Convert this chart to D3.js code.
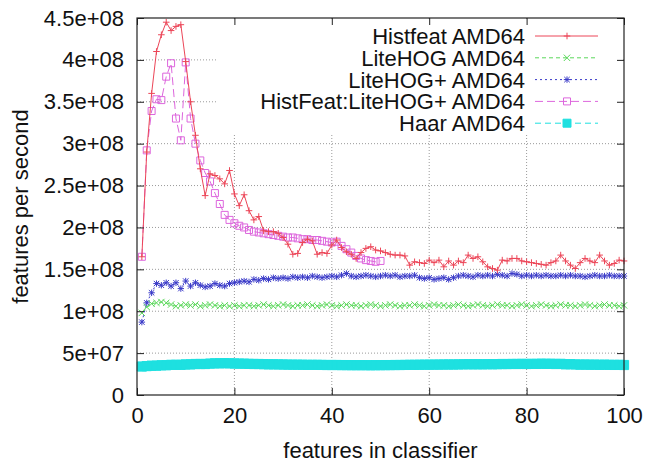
<!DOCTYPE html>
<html>
<head>
<meta charset="utf-8">
<script src="https://d3js.org/d3.v7.min.js"></script>
<style>
body { margin: 0; background: #fff; }
svg { display: block; }
text { font-family: "Liberation Sans", Arial, Helvetica, sans-serif; fill: #111; }
</style>
</head>
<body>
<div id="chart"></div>
<script>
// values are in units of 1e8 features per second, x = features in classifier (1, 2, 3 ...)
var histfeat = [1.65,2.90,3.60,4.10,4.30,4.45,4.35,4.40,4.42,3.98,
	3.50,3.10,2.70,2.38,2.64,2.62,2.58,2.52,2.68,2.40,
	2.26,2.39,2.20,2.09,2.13,1.96,1.95,1.95,1.93,1.88,
	1.80,1.68,1.69,1.82,1.86,1.84,1.68,1.70,1.69,1.79,
	1.85,1.76,1.71,1.68,1.63,1.70,1.75,1.77,1.73,1.72,
	1.70,1.68,1.67,1.67,1.66,1.55,1.59,1.58,1.57,1.61,
	1.58,1.61,1.53,1.60,1.55,1.60,1.58,1.67,1.63,1.65,
	1.59,1.53,1.51,1.49,1.61,1.60,1.63,1.63,1.60,1.59,
	1.58,1.57,1.56,1.55,1.58,1.60,1.67,1.60,1.55,1.51,
	1.58,1.63,1.60,1.58,1.67,1.60,1.55,1.57,1.61,1.60];
var litehog = [0.98,1.05,1.09,1.10,1.11,1.10,1.08,1.06,1.07,1.08,
	1.07,1.08,1.06,1.07,1.08,1.07,1.06,1.07,1.06,1.07,
	1.06,1.07,1.07,1.06,1.07,1.08,1.07,1.06,1.07,1.08,
	1.07,1.06,1.07,1.07,1.08,1.07,1.06,1.07,1.08,1.07,
	1.06,1.07,1.08,1.07,1.07,1.06,1.07,1.08,1.07,1.06,
	1.07,1.08,1.07,1.06,1.07,1.07,1.08,1.07,1.06,1.07,
	1.08,1.07,1.07,1.06,1.07,1.08,1.07,1.06,1.07,1.08,
	1.07,1.06,1.07,1.08,1.07,1.07,1.06,1.07,1.08,1.07,
	1.06,1.07,1.08,1.07,1.06,1.07,1.08,1.07,1.07,1.06,
	1.07,1.08,1.07,1.06,1.07,1.08,1.07,1.07,1.06,1.07];
var litehogPlus = [0.87,1.10,1.22,1.33,1.31,1.34,1.30,1.34,1.27,1.36,
	1.30,1.34,1.31,1.29,1.30,1.33,1.31,1.30,1.33,1.34,
	1.35,1.36,1.35,1.38,1.37,1.39,1.38,1.40,1.39,1.40,
	1.39,1.41,1.40,1.41,1.40,1.42,1.41,1.40,1.41,1.42,
	1.41,1.43,1.45,1.42,1.41,1.42,1.43,1.42,1.41,1.42,
	1.43,1.42,1.43,1.41,1.42,1.42,1.43,1.40,1.39,1.40,
	1.38,1.39,1.40,1.38,1.40,1.42,1.43,1.42,1.41,1.43,
	1.42,1.43,1.42,1.44,1.43,1.42,1.45,1.44,1.42,1.43,
	1.42,1.43,1.42,1.43,1.42,1.42,1.43,1.42,1.43,1.42,
	1.42,1.41,1.42,1.43,1.42,1.42,1.43,1.42,1.42,1.42];
var histfeatLitehog = [1.65,2.92,3.39,3.53,3.52,3.80,3.96,3.30,3.04,3.97,
	3.30,3.00,2.80,2.65,2.55,2.41,2.28,2.15,2.09,2.05,
	2.02,2.00,1.97,1.95,1.94,1.93,1.92,1.91,1.90,1.89,
	1.88,1.88,1.87,1.86,1.86,1.85,1.85,1.84,1.83,1.82,
	1.83,1.78,1.74,1.70,1.66,1.63,1.61,1.60,1.59,1.60];
var haar = [0.340,0.345,0.350,0.350,0.355,0.355,0.360,0.360,0.360,0.365,
	0.365,0.370,0.370,0.370,0.375,0.378,0.378,0.380,0.378,0.376,
	0.375,0.374,0.372,0.370,0.370,0.368,0.366,0.366,0.365,0.364,
	0.363,0.362,0.362,0.361,0.360,0.360,0.360,0.359,0.358,0.358,
	0.358,0.357,0.357,0.356,0.356,0.356,0.356,0.355,0.356,0.356,
	0.357,0.357,0.358,0.358,0.359,0.360,0.360,0.361,0.362,0.362,
	0.363,0.363,0.364,0.364,0.364,0.365,0.366,0.367,0.366,0.367,
	0.366,0.368,0.367,0.368,0.370,0.369,0.371,0.370,0.372,0.370,
	0.372,0.371,0.374,0.372,0.373,0.370,0.372,0.366,0.368,0.365,
	0.362,0.364,0.361,0.363,0.360,0.362,0.360,0.359,0.360,0.358];

var seriesNames = ["Histfeat AMD64", "LiteHOG AMD64", "LiteHOG+ AMD64", "HistFeat:LiteHOG+ AMD64", "Haar AMD64"];
var xTicks = [0, 20, 40, 60, 80, 100];
var yTicks = [0, 5e7, 1e8, 1.5e8, 2e8, 2.5e8, 3e8, 3.5e8, 4e8, 4.5e8];
var yTickLabels = ["0", "5e+07", "1e+08", "1.5e+08", "2e+08", "2.5e+08", "3e+08", "3.5e+08", "4e+08", "4.5e+08"];

var W = 647, H = 462,
	plotL = 137, plotR = 624, plotT = 18, plotB = 395;

var x = d3.scaleLinear().domain([0, 100]).range([plotL, plotR]);
var y = d3.scaleLinear().domain([0, 4.5e8]).range([plotB, plotT]);

var svg = d3.select("#chart").append("svg").attr("width", W).attr("height", H);

// grid
var grid = svg.append("g").attr("stroke", "#9a9a9a").attr("stroke-width", 1).attr("stroke-dasharray", "1,2");
grid.selectAll("line.gx").data(xTicks.slice(1, -1)).enter().append("line")
	.attr("x1", function(d){return x(d)}).attr("x2", function(d){return x(d)})
	.attr("y1", plotT).attr("y2", plotB);
grid.selectAll("line.gy").data(yTicks.slice(1, -1)).enter().append("line")
	.attr("y1", function(d){return y(d)}).attr("y2", function(d){return y(d)})
	.attr("x1", plotL).attr("x2", plotR);

// key area hides the grid
svg.append("rect").attr("x", 217).attr("y", plotT + 1).attr("width", plotR - 218).attr("height", 114).attr("fill", "#fff");

// markers
function marker(type, s)
{
	if(type == "plus") return "M" + (-s) + ",0H" + s + "M0," + (-s) + "V" + s;
	if(type == "cross") return "M" + (-s) + "," + (-s) + "L" + s + "," + s + "M" + (-s) + "," + s + "L" + s + "," + (-s);
	if(type == "star") return marker("plus", s) + marker("cross", s * 0.85);
	return "M" + (-s) + "," + (-s) + "H" + s + "V" + s + "H" + (-s) + "Z";
}

var series = [
	{name: seriesNames[0], values: histfeat, color: "#ec4658", dash: null, mark: "plus", size: 3.3, fill: "none"},
	{name: seriesNames[1], values: litehog, color: "#5ad85a", dash: "4,3", mark: "cross", size: 3.2, fill: "none"},
	{name: seriesNames[2], values: litehogPlus, color: "#3a3ac8", dash: "2,3", mark: "star", size: 3.2, fill: "none"},
	{name: seriesNames[3], values: histfeatLitehog, color: "#dd66dd", dash: "8,4", mark: "square", size: 3.5, fill: "none"},
	{name: seriesNames[4], values: haar, color: "#1ee0e0", dash: "6,4", mark: "square", size: 4.6, fill: "#1ee0e0"}
];

var line = d3.line()
	.x(function(d, i){return x(i + 1)})
	.y(function(d){return y(d * 1e8)});

// drawn back to front so red stays on top
series.slice().reverse().forEach(function(s)
{
	var g = svg.append("g");
	g.append("path").attr("d", line(s.values))
		.attr("fill", "none").attr("stroke", s.color).attr("stroke-width", 1)
		.attr("stroke-dasharray", s.dash);
	g.selectAll("path.pt").data(s.values).enter().append("path")
		.attr("class", "pt")
		.attr("transform", function(d, i){return "translate(" + x(i + 1) + "," + y(d * 1e8) + ")"})
		.attr("d", marker(s.mark, s.size))
		.attr("fill", s.fill).attr("stroke", s.color).attr("stroke-width", 1);
});

// axes, ticks point inward and are mirrored
var xAxis = svg.append("g").attr("transform", "translate(0," + plotB + ")")
	.call(d3.axisBottom(x).tickValues(xTicks).tickSize(-7).tickSizeOuter(0).tickPadding(12).tickFormat(d3.format("d")));
var xAxisTop = svg.append("g").attr("transform", "translate(0," + plotT + ")")
	.call(d3.axisTop(x).tickValues(xTicks).tickSize(-7).tickSizeOuter(0).tickFormat(""));
var yAxis = svg.append("g").attr("transform", "translate(" + plotL + ",0)")
	.call(d3.axisLeft(y).tickValues(yTicks).tickSize(-7).tickSizeOuter(0).tickPadding(13)
		.tickFormat(function(d, i){return yTickLabels[i]}));
var yAxisRight = svg.append("g").attr("transform", "translate(" + plotR + ",0)")
	.call(d3.axisRight(y).tickValues(yTicks).tickSize(-7).tickSizeOuter(0).tickFormat(""));

[xAxis, xAxisTop, yAxis, yAxisRight].forEach(function(a)
{
	a.select(".domain").remove();
	a.selectAll(".tick line").attr("stroke", "#222").attr("stroke-width", 1);
	a.selectAll("text").attr("font-size", 22).attr("fill", "#111")
		.attr("font-family", "\"Liberation Sans\", Arial, sans-serif");
});

svg.append("rect").attr("x", plotL).attr("y", plotT).attr("width", plotR - plotL).attr("height", plotB - plotT)
	.attr("fill", "none").attr("stroke", "#222").attr("stroke-width", 1.2);

// axis titles
svg.append("text").attr("x", (plotL + plotR) / 2).attr("y", 458).attr("text-anchor", "middle")
	.attr("font-size", 22).text("features in classifier");
svg.append("text").attr("transform", "translate(28," + ((plotT + plotB) / 2) + ") rotate(-90)")
	.attr("text-anchor", "middle").attr("font-size", 22).text("features per second");

// key
var key = svg.append("g");
series.forEach(function(s, i)
{
	var ky = 36 + i * 21.8;
	key.append("text").attr("x", 525).attr("y", ky).attr("dy", "0.36em")
		.attr("text-anchor", "end").attr("font-size", 22).text(s.name);
	key.append("line").attr("x1", 535).attr("x2", 598).attr("y1", ky).attr("y2", ky)
		.attr("stroke", s.color).attr("stroke-width", 1).attr("stroke-dasharray", s.dash);
	key.append("path").attr("transform", "translate(567," + ky + ")")
		.attr("d", marker(s.mark, i == 4 ? 4 : s.size))
		.attr("fill", s.fill).attr("stroke", s.color).attr("stroke-width", 1);
});
</script>
</body>
</html>
